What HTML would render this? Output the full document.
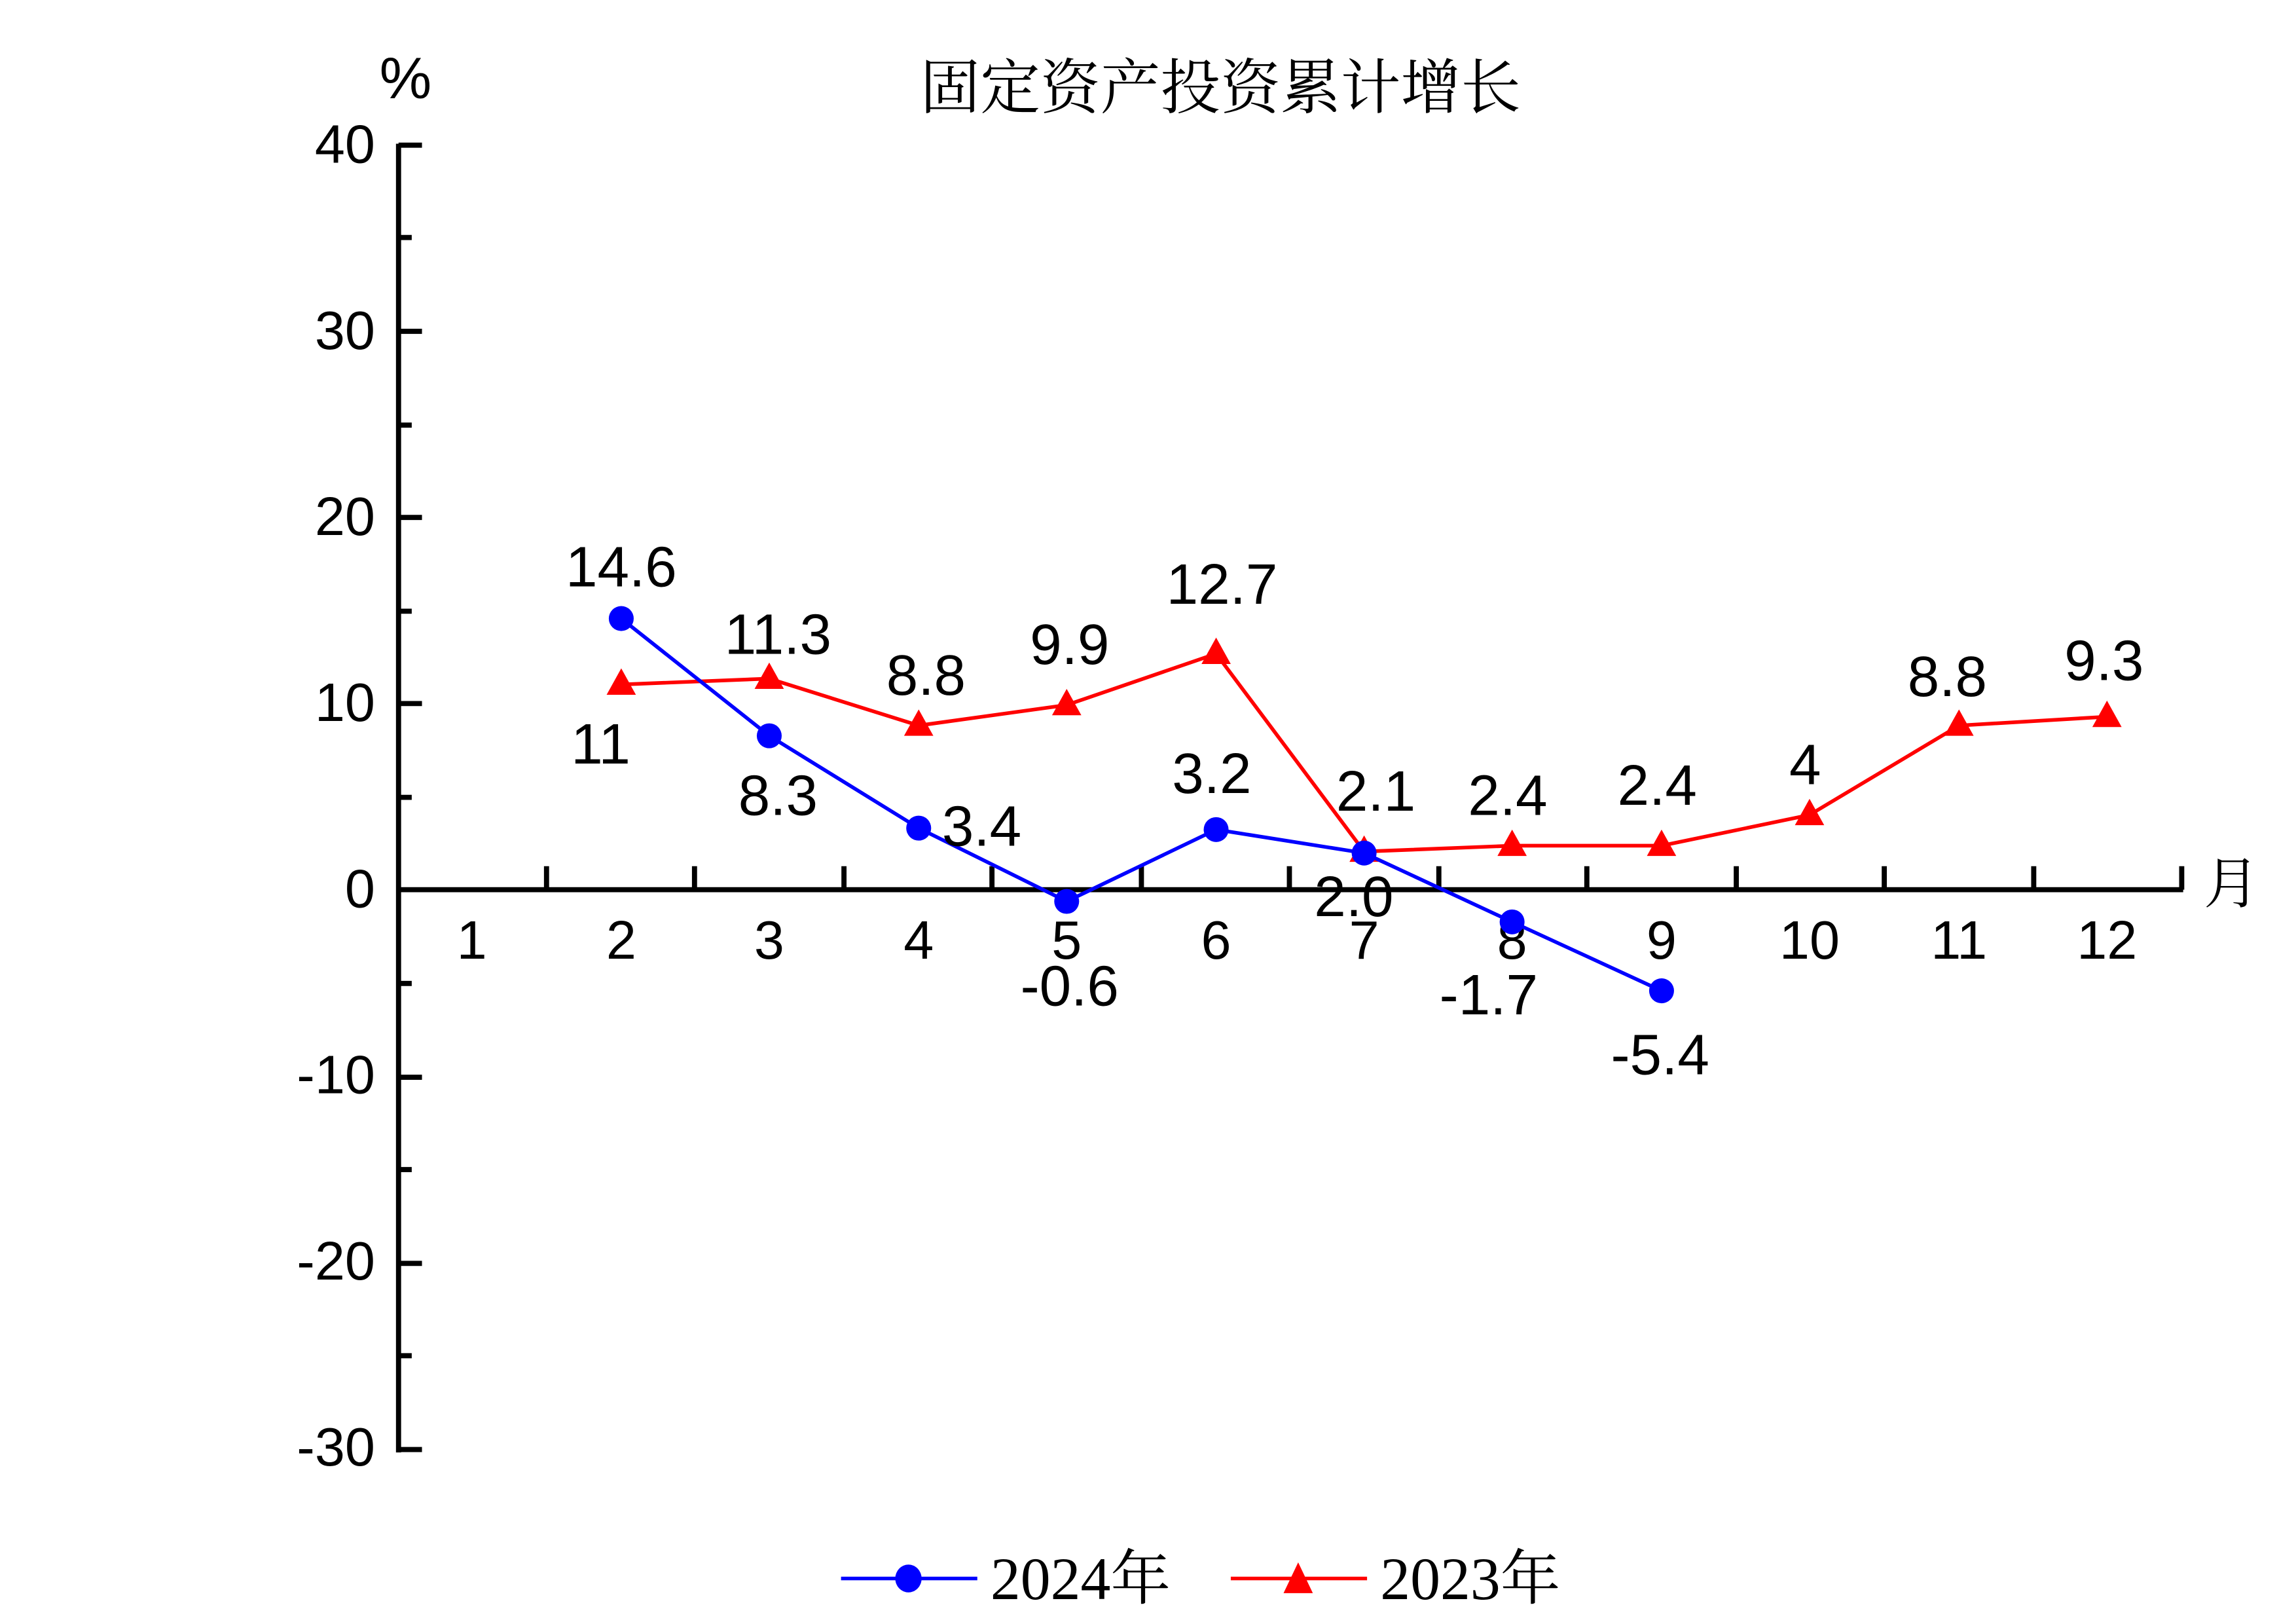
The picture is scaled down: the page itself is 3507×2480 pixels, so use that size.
<!DOCTYPE html>
<html><head><meta charset="utf-8"><style>html,body{margin:0;padding:0;background:#fff}svg{display:block}</style></head>
<body>
<svg width="3507" height="2480" viewBox="0 0 1567 1108" xmlns="http://www.w3.org/2000/svg">
<rect width="1567" height="1108" fill="#fff"/>
<g font-family="Liberation Sans, sans-serif" font-size="37" fill="#000">
<text x="628" y="74" font-family="Noto Serif CJK SC, serif" font-size="41">固定资产投资累计增长</text>
<text x="259" y="67" font-size="40">%</text>
<text x="1504" y="616" font-family="Noto Serif CJK SC, serif" font-size="38">月</text>
<line x1="272" y1="98" x2="272" y2="991" stroke="#000" stroke-width="3.5"/>
<g stroke="#000" stroke-width="3.5">
<line x1="272" y1="99" x2="288" y2="99"/><line x1="272" y1="226" x2="288" y2="226"/>
<line x1="272" y1="353" x2="288" y2="353"/><line x1="272" y1="480" x2="288" y2="480"/>
<line x1="272" y1="735" x2="288" y2="735"/><line x1="272" y1="862" x2="288" y2="862"/>
<line x1="272" y1="989" x2="288" y2="989"/>
<line x1="272" y1="162" x2="281" y2="162"/><line x1="272" y1="290" x2="281" y2="290"/>
<line x1="272" y1="417" x2="281" y2="417"/><line x1="272" y1="544" x2="281" y2="544"/>
<line x1="272" y1="671" x2="281" y2="671"/><line x1="272" y1="798" x2="281" y2="798"/>
<line x1="272" y1="925" x2="281" y2="925"/>
<line x1="272" y1="607" x2="1490" y2="607"/>
<line x1="373" y1="607" x2="373" y2="591"/><line x1="474" y1="607" x2="474" y2="591"/>
<line x1="576" y1="607" x2="576" y2="591"/><line x1="677" y1="607" x2="677" y2="591"/>
<line x1="779" y1="607" x2="779" y2="591"/><line x1="880" y1="607" x2="880" y2="591"/>
<line x1="982" y1="607" x2="982" y2="591"/><line x1="1083" y1="607" x2="1083" y2="591"/>
<line x1="1185" y1="607" x2="1185" y2="591"/><line x1="1286" y1="607" x2="1286" y2="591"/>
<line x1="1388" y1="607" x2="1388" y2="591"/><line x1="1489" y1="607" x2="1489" y2="591"/>
</g>
<g text-anchor="end">
<text x="256" y="111">40</text><text x="256" y="238">30</text><text x="256" y="365">20</text>
<text x="256" y="492">10</text><text x="256" y="619">0</text><text x="256" y="746">-10</text>
<text x="256" y="873">-20</text><text x="256" y="1000">-30</text>
</g>
<g text-anchor="middle">
<text x="322" y="654">1</text><text x="424" y="654">2</text><text x="525" y="654">3</text>
<text x="627" y="654">4</text><text x="728" y="654">5</text><text x="830" y="654">6</text>
<text x="931" y="654">7</text><text x="1032" y="654">8</text><text x="1134" y="654">9</text>
<text x="1235" y="654">10</text><text x="1337" y="654">11</text><text x="1438" y="654">12</text>
</g>
<polyline fill="none" stroke="#f00" stroke-width="2.5" points="424,467 525,463 627,495 728,481 830,446 931,581 1032,577 1134,577 1235,556 1337,495 1438,489"/>
<g fill="#f00">
<polygon points="424,456 414,474 434,474"/><polygon points="525,452 515,470 535,470"/>
<polygon points="627,484 617,502 637,502"/><polygon points="728,470 718,488 738,488"/>
<polygon points="830,435 820,453 840,453"/><polygon points="931,570 921,588 941,588"/>
<polygon points="1032,566 1022,584 1042,584"/><polygon points="1134,566 1124,584 1144,584"/>
<polygon points="1235,545 1225,563 1245,563"/><polygon points="1337,484 1327,502 1347,502"/>
<polygon points="1438,478 1428,496 1448,496"/>
</g>
<polyline fill="none" stroke="#00f" stroke-width="2.5" points="424,422 525,502 627,565 728,615 830,566 931,582 1032,629 1134,676"/>
<g fill="#00f">
<circle cx="424" cy="422" r="8.5"/><circle cx="525" cy="502" r="8.5"/><circle cx="627" cy="565" r="8.5"/>
<circle cx="728" cy="615" r="8.5"/><circle cx="830" cy="566" r="8.5"/><circle cx="931" cy="582" r="8.5"/>
<circle cx="1032" cy="629" r="8.5"/><circle cx="1134" cy="676" r="8.5"/>
</g>
<g text-anchor="middle" font-size="39">
<text x="424" y="400">14.6</text><text x="531" y="556">8.3</text><text x="670" y="577">3.4</text>
<text x="730" y="686">-0.6</text><text x="827" y="541">3.2</text><text x="924" y="625">2.0</text>
<text x="1016" y="692">-1.7</text><text x="1133" y="733">-5.4</text>
<text x="410" y="521">11</text><text x="531" y="446">11.3</text><text x="632" y="474">8.8</text>
<text x="730" y="453">9.9</text><text x="834" y="412">12.7</text><text x="939" y="553">2.1</text>
<text x="1029" y="556">2.4</text><text x="1131" y="549">2.4</text><text x="1232" y="535">4</text>
<text x="1329" y="475">8.8</text><text x="1436" y="464">9.3</text>
</g>
<line x1="574" y1="1077" x2="667" y2="1077" stroke="#00f" stroke-width="2.5"/>
<ellipse cx="620" cy="1077" rx="9" ry="9.5" fill="#00f"/>
<text x="676" y="1091" font-family="Liberation Serif, Noto Serif CJK SC, serif" font-size="41">2024年</text>
<line x1="840" y1="1077" x2="933" y2="1077" stroke="#f00" stroke-width="2.5"/>
<polygon points="886,1066 876,1087 896,1087" fill="#f00"/>
<text x="942" y="1091" font-family="Liberation Serif, Noto Serif CJK SC, serif" font-size="41">2023年</text>
</g>
</svg>
</body></html>
